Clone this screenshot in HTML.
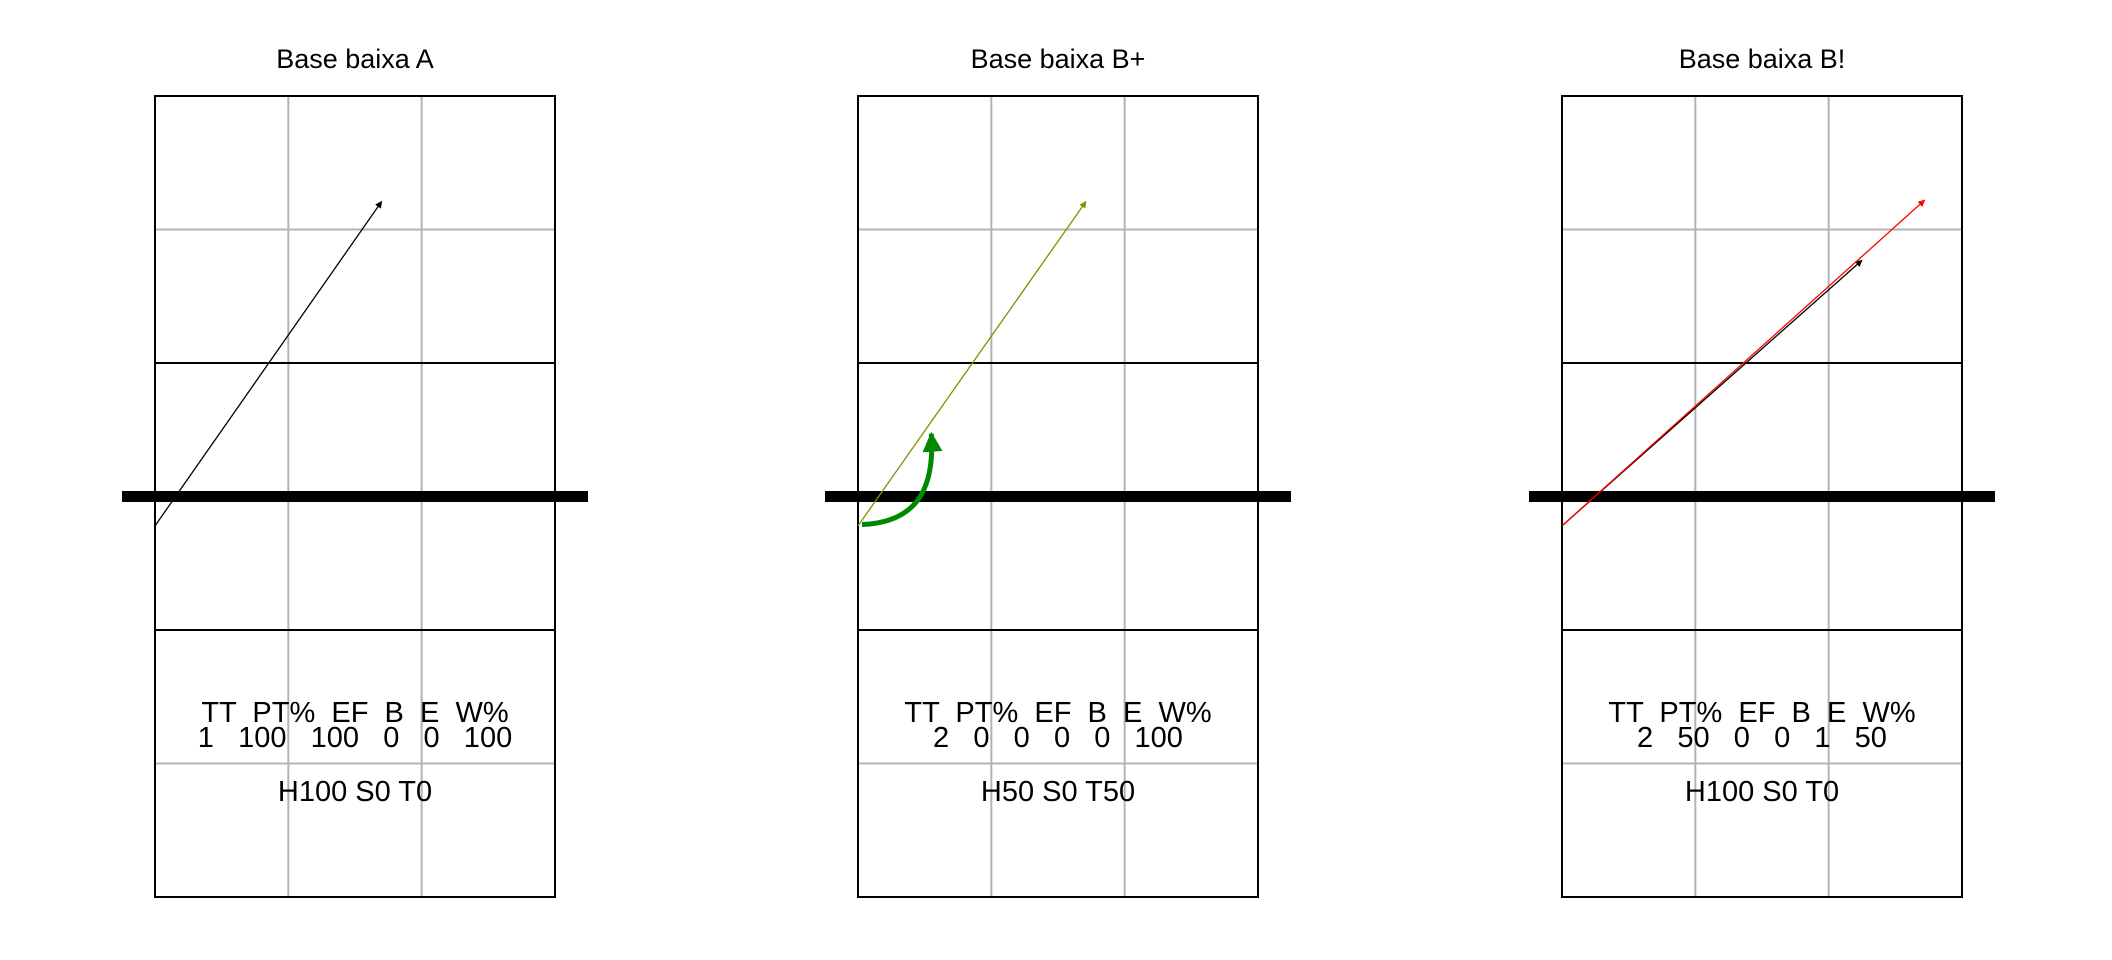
<!DOCTYPE html>
<html><head><meta charset="utf-8"><style>
html,body{margin:0;padding:0;background:#fff;}
svg{display:block;font-family:"Liberation Sans",Arial,sans-serif;}
text{white-space:pre;}
</style></head><body>
<svg id="chart" width="2112" height="960" viewBox="0 0 2112 960"></svg>
<script>
const panelTitles = ["Base baixa A", "Base baixa B+", "Base baixa B!"];
const headerLabels = ["TT", "PT%", "EF", "B", "E", "W%"];
const statValues = [["1","100","100","0","0","100"],["2","0","0","0","0","100"],["2","50","0","0","1","50"]];
const footerLabels = ["H100 S0 T0", "H50 S0 T50", "H100 S0 T0"];
const arrowPanel = [0, 1, 2, 2];
const arrowX0 = [0, 0, 0, 0];
const arrowY0 = [2.78, 2.78, 2.78, 2.78];
const arrowX1 = [1.70, 1.71, 2.25, 2.72];
const arrowY1 = [5.21, 5.21, 4.77, 5.22];
const arrowColor = ["#000", "#8b8b00", "#000", "#ff0000"];
const curveStart = [0.03, 2.79];
const curveEnd = [0.52, 3.53];
const baseLineY = 3.0;

const NS = "http://www.w3.org/2000/svg";
const svg = document.getElementById("chart");
const panelLeft = [155, 858, 1562];
const top0 = 96, colW = 133.33, rowH = 133.5;
function sx(p, x) { return panelLeft[p] + x * colW; }
function sy(y) { return top0 + 6 * rowH - y * rowH; }
function mk(tag, attrs, parent) {
  const e = document.createElementNS(NS, tag);
  for (const k in attrs) e.setAttribute(k, attrs[k]);
  (parent || svg).appendChild(e);
  return e;
}
const defs = mk("defs", {});
["#000", "#8b8b00", "#ff0000", "#008800"].forEach((c, i) => {
  const m = mk("marker", {id: "ah" + i, viewBox: "0 0 10 10", refX: "9", refY: "5", markerWidth: i === 3 ? "4" : "9", markerHeight: i === 3 ? "4" : "7", markerUnits: i === 3 ? "strokeWidth" : "userSpaceOnUse", orient: "auto"}, defs);
  mk("path", {d: "M0,0 L10,5 L0,10 z", fill: c}, m);
});
const colorIdx = {"#000": 0, "#8b8b00": 1, "#ff0000": 2};

for (let p = 0; p < 3; p++) {
  const g = mk("g", {});
  
  
  const L = panelLeft[p], R = L + 3 * colW, T = sy(6), B = sy(0);
  const t = mk("text", {x: L + 200, y: 68, "text-anchor": "middle", "font-size": "27"}, g);
  t.textContent = panelTitles[p];
  
  
  [1, 2].forEach(c => mk("line", {x1: sx(p, c), x2: sx(p, c), y1: T, y2: B, stroke: "#b3b3b3", "stroke-width": 2}, g));
  [1, 5].forEach(r => mk("line", {x1: L, x2: R, y1: sy(r), y2: sy(r), stroke: "#b3b3b3", "stroke-width": 2}, g));
  [2, 4].forEach(r => mk("line", {x1: L, x2: R, y1: sy(r), y2: sy(r), stroke: "#000", "stroke-width": 2}, g));
  const rect = mk("rect", {x: L, y: T, width: R - L, height: B - T, fill: "none", stroke: "#000", "stroke-width": 2}, g);
  
  
  const bl = mk("line", {x1: L - 33, x2: R + 33, y1: sy(baseLineY), y2: sy(baseLineY), stroke: "#000", "stroke-width": 11}, g);
  
  
  const h = mk("text", {x: L + 200, y: 722, "text-anchor": "middle", "font-size": "29"}, g);
  h.textContent = headerLabels.join("  ");
  
  
  const v = mk("text", {x: L + 200, y: 747, "text-anchor": "middle", "font-size": "29"}, g);
  v.textContent = statValues[p].join("   ");
  
  
  const f = mk("text", {x: L + 200, y: 801, "text-anchor": "middle", "font-size": "29"}, g);
  f.textContent = footerLabels[p];
  
  
}
for (let i = 0; i < arrowPanel.length; i++) {
  const p = arrowPanel[i];
  const a = mk("line", {x1: sx(p, arrowX0[i]), y1: sy(arrowY0[i]), x2: sx(p, arrowX1[i]), y2: sy(arrowY1[i]), stroke: arrowColor[i], "stroke-width": 1.3, "marker-end": "url(#ah" + colorIdx[arrowColor[i]] + ")"});
  
  
}
const x0 = sx(1, curveStart[0]), y0 = sy(curveStart[1]), x1 = sx(1, curveEnd[0]), y1 = sy(curveEnd[1]);
const cv = mk("path", {d: `M${x0},${y0} C${x0 + 50},${y0 - 2} ${x1 + 8},${y0 - 30} ${x1 + 4},${y1 + 8}`, fill: "none", stroke: "#008800", "stroke-width": 5, "marker-end": "url(#ah3)"});


</script>
</body></html>
